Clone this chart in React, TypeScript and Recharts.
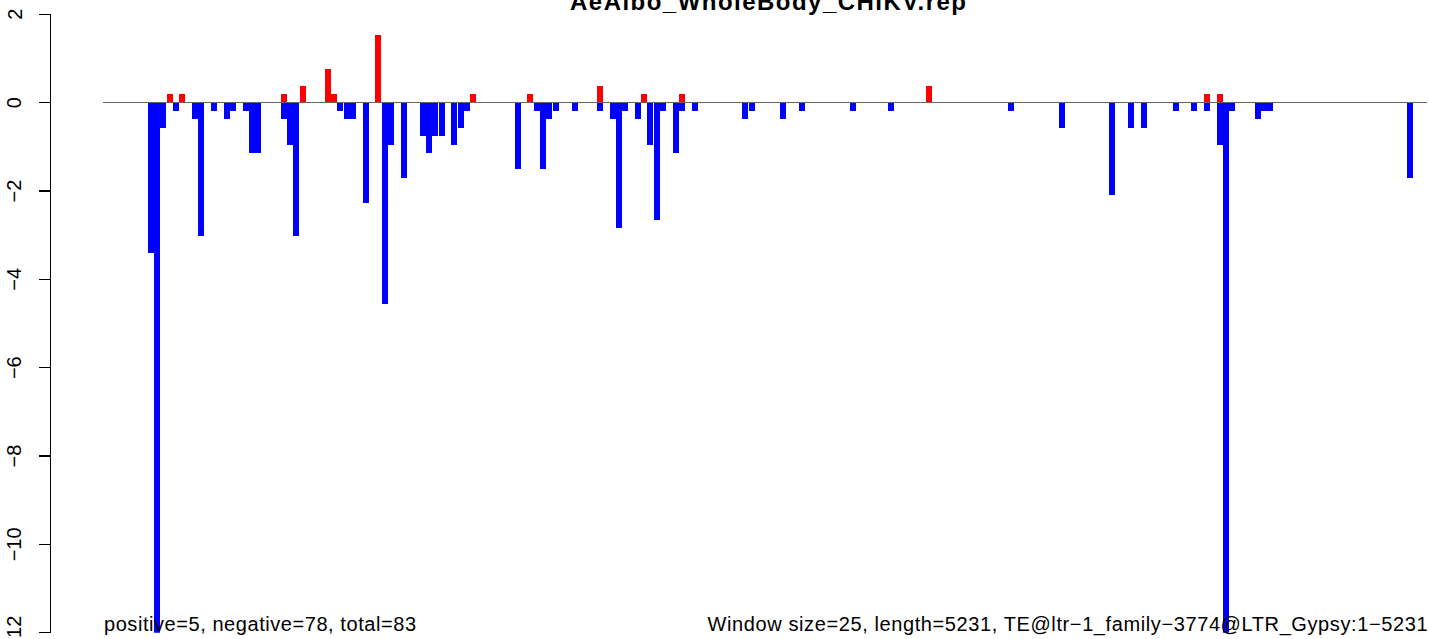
import React from "react";
import { BarChart, Bar, XAxis, YAxis, ReferenceLine } from "recharts";

const WINDOW_SIZE = 25;
const SEQ_LENGTH = 5231;
const TITLE = "AeAlbo_WholeBody_CHIKV.rep";
const LEFT_NOTE = "positive=5, negative=78, total=83";
const RIGHT_NOTE = "Window size=25, length=5231, TE@ltr\u22121_family\u22123774@LTR_Gypsy:1\u22125231";
const Y_TICKS = [-12, -10, -8, -6, -4, -2, 0, 2];

// window index -> value (red, above zero)
const POS_WINDOWS = [10, 12, 28, 31, 35, 36, 43, 58, 67, 78, 85, 91, 130, 174, 176];
const POS_VALUES = [0.19, 0.19, 0.19, 0.38, 0.76, 0.19, 1.53, 0.19, 0.19, 0.38, 0.19, 0.19, 0.38, 0.19, 0.19];

// window index -> value (blue, below zero)
const NEG_WINDOWS = [
  7, 8, 9, 11, 14, 15, 17, 19, 20, 22, 23, 24, 28, 29, 30, 37, 38, 39, 41, 44, 45, 47,
  50, 51, 52, 53, 55, 56, 57, 65, 68, 69, 70, 71, 74, 78, 80, 81, 82, 84, 86, 87, 88,
  90, 91, 93, 101, 102, 107, 110, 118, 124, 143, 151, 159, 162, 164, 169, 172, 174,
  176, 177, 178, 182, 183, 184, 206,
];
const NEG_VALUES = [
  -3.41, -12, -0.57, -0.19, -0.38, -3.03, -0.19, -0.38, -0.19, -0.19, -1.13, -1.13, -0.38,
  -0.95, -3.03, -0.19, -0.38, -0.38, -2.27, -4.55, -0.95, -1.7,
  -0.76, -1.13, -0.76, -0.76, -0.95, -0.57, -0.19, -1.51, -0.19, -1.51, -0.38, -0.19, -0.19,
  -0.19, -0.38, -2.84, -0.19, -0.38, -0.95, -2.65, -0.19,
  -1.13, -0.19, -0.19, -0.38, -0.19, -0.38, -0.19, -0.19, -0.19, -0.19, -0.57, -2.08, -0.57,
  -0.57, -0.19, -0.19, -0.19,
  -0.95, -12, -0.19, -0.38, -0.19, -0.19, -1.7,
];

const windowCount = Math.ceil(SEQ_LENGTH / WINDOW_SIZE);
const data = Array.from({ length: windowCount }, (_, i) => {
  const p = POS_WINDOWS.indexOf(i);
  const n = NEG_WINDOWS.indexOf(i);
  return {
    mid: i * WINDOW_SIZE + WINDOW_SIZE / 2,
    pos: p >= 0 ? POS_VALUES[p] : 0,
    neg: n >= 0 ? NEG_VALUES[n] : 0,
  };
});

// R pads the x range by 4% on both sides
const X_PAD = SEQ_LENGTH * 0.04;
const FONT = "'Liberation Sans', Arial, Helvetica, sans-serif";

function RotatedTick({ x, y, payload }: any) {
  const v = payload.value;
  const label = v < 0 ? `\u2212${Math.abs(v)}` : `${v}`;
  const bx = x - 17;
  return (
    <text
      x={bx}
      y={y}
      transform={`rotate(-90, ${bx}, ${y})`}
      textAnchor="middle"
      fontSize={20}
      fill="#000"
      fontFamily={FONT}
    >
      {label}
    </text>
  );
}

export default function App() {
  return (
    <div
      style={{
        position: "absolute",
        left: 0,
        top: 0,
        width: 1429,
        height: 639,
        overflow: "hidden",
        background: "#fff",
        shapeRendering: "crispEdges",
      }}
    >
      <BarChart
        width={1480}
        height={639}
        data={data}
        margin={{ top: 14.3, right: 0, bottom: 6.3, left: 0 }}
        barCategoryGap={0}
        barGap={0}
        stackOffset="sign"
      >
        <XAxis
          dataKey="mid"
          type="number"
          domain={[-X_PAD, SEQ_LENGTH + X_PAD]}
          allowDataOverflow
          hide
        />
        <YAxis
          width={50.5}
          domain={[-12, 2]}
          ticks={Y_TICKS}
          interval={0}
          allowDataOverflow
          axisLine={{ stroke: "#000", strokeWidth: 1.4 }}
          tickLine={{ stroke: "#000", strokeWidth: 1.4 }}
          tickSize={12}
          tickMargin={0}
          tick={<RotatedTick />}
        />
        <Bar dataKey="pos" stackId="w" fill="#ff0000" isAnimationActive={false} />
        <Bar dataKey="neg" stackId="w" fill="#0000ff" isAnimationActive={false} />
        <ReferenceLine
          segment={[
            { x: 0, y: 0 },
            { x: SEQ_LENGTH, y: 0 },
          ]}
          stroke="#666666"
          strokeWidth={1.5}
        />
      </BarChart>
      <svg
        width={1429}
        height={639}
        style={{ position: "absolute", left: 0, top: 0, pointerEvents: "none" }}
      >
        <text
          x={768}
          y={10}
          textAnchor="middle"
          fontSize={24}
          fontWeight="bold"
          fontFamily={FONT}
          textLength={396}
          lengthAdjust="spacing"
        >
          {TITLE}
        </text>
        <text
          x={104}
          y={631}
          fontSize={20}
          fontFamily={FONT}
          textLength={312}
          lengthAdjust="spacing"
        >
          {LEFT_NOTE}
        </text>
        <text
          x={707.5}
          y={631}
          fontSize={20}
          fontFamily={FONT}
          textLength={720}
          lengthAdjust="spacing"
        >
          {RIGHT_NOTE}
        </text>
      </svg>
    </div>
  );
}
